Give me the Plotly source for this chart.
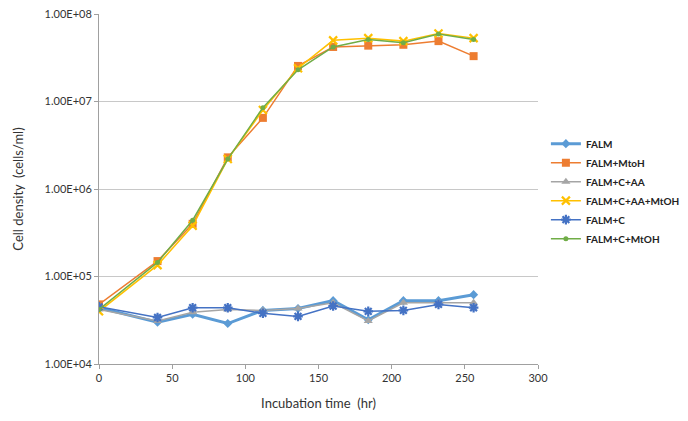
import plotly.graph_objects as go

hours = [0, 40, 64, 88, 112, 136, 160, 184, 208, 232, 256]

falm = [4.4e4, 3.0e4, 3.7e4, 2.9e4, 4.1e4, 4.3e4, 5.3e4, 3.2e4, 5.3e4, 5.3e4, 6.2e4]
falm_mtoh = [4.8e4, 1.5e5, 4.0e5, 2.3e6, 6.5e6, 2.55e7, 4.2e7, 4.35e7, 4.45e7, 4.9e7, 3.3e7]
falm_c_aa = [4.2e4, 3.1e4, 3.9e4, 4.2e4, 4.1e4, 4.3e4, 5.0e4, 3.1e4, 5.0e4, 5.0e4, 5.0e4]
falm_c_aa_mtoh = [4.0e4, 1.35e5, 3.8e5, 2.2e6, 8.0e6, 2.4e7, 5.0e7, 5.3e7, 4.9e7, 6.0e7, 5.3e7]
falm_c = [4.5e4, 3.4e4, 4.4e4, 4.4e4, 3.8e4, 3.5e4, 4.6e4, 4.0e4, 4.1e4, 4.8e4, 4.4e4]
falm_c_mtoh = [4.2e4, 1.45e5, 4.4e5, 2.2e6, 8.5e6, 2.3e7, 4.2e7, 5.1e7, 4.7e7, 5.9e7, 5.1e7]

y_ticks = [1e4, 1e5, 1e6, 1e7, 1e8]
y_labels = ["1.00E+04", "1.00E+05", "1.00E+06", "1.00E+07", "1.00E+08"]

series = [
    ("FALM", falm, "#5B9BD5", "diamond", 7, 3),
    ("FALM+MtoH", falm_mtoh, "#ED7D31", "square", 8, 1.5),
    ("FALM+C+AA", falm_c_aa, "#A5A5A5", "triangle-up", 8, 1.5),
    ("FALM+C+AA+MtOH", falm_c_aa_mtoh, "#FFC000", "x-thin-open", 8, 1.5),
    ("FALM+C", falm_c, "#4472C4", "asterisk-open", 8, 1.5),
    ("FALM+C+MtOH", falm_c_mtoh, "#70AD47", "circle", 5, 1.5),
]

fig = go.Figure()
for name, vals, color, sym, size, width in series:
    marker = dict(symbol=sym, size=size, color=color)
    if sym.endswith("-open"):
        marker["line"] = dict(color=color, width=2.2)
    fig.add_trace(go.Scatter(
        x=hours, y=vals, name=name, mode="lines+markers",
        line=dict(color=color, width=width), marker=marker,
    ))

# page body keeps an 8px margin, so the margins here are shifted to match
fig.update_layout(
    width=688, height=421,
    margin=dict(l=91, r=158, t=6, b=65),
    paper_bgcolor="white", plot_bgcolor="white",
    font=dict(family="Lato, Carlito, 'Liberation Sans', sans-serif", size=11, color="#333333"),
    xaxis=dict(
        range=[0, 300], tickvals=[0, 50, 100, 150, 200, 250, 300],
        showgrid=False, showline=True, linecolor="#A0A0A0", linewidth=1,
        ticks="outside", ticklen=4, tickcolor="#A0A0A0",
        zeroline=False, automargin=False,
        title=dict(text="Incubation time  (hr)", font=dict(size=13), standoff=15),
    ),
    yaxis=dict(
        type="log", range=[4, 8.0001], tickvals=y_ticks, ticktext=y_labels,
        showgrid=True, gridcolor="#C8C8C8", gridwidth=1,
        showline=True, linecolor="#A0A0A0", linewidth=1,
        ticks="outside", ticklen=4, tickcolor="#A0A0A0",
        automargin=False, ticklabeloverflow="allow",
        title=dict(text="Cell density  (cells/ml)", font=dict(size=13), standoff=18),
    ),
    legend=dict(
        x=1.018, xanchor="left", y=0.671, yanchor="top",
        font=dict(size=10, color="#222222", weight="bold"),
        bgcolor="rgba(0,0,0,0)", tracegroupgap=0,
    ),
    showlegend=True,
)

fig.write_html("out.html")
